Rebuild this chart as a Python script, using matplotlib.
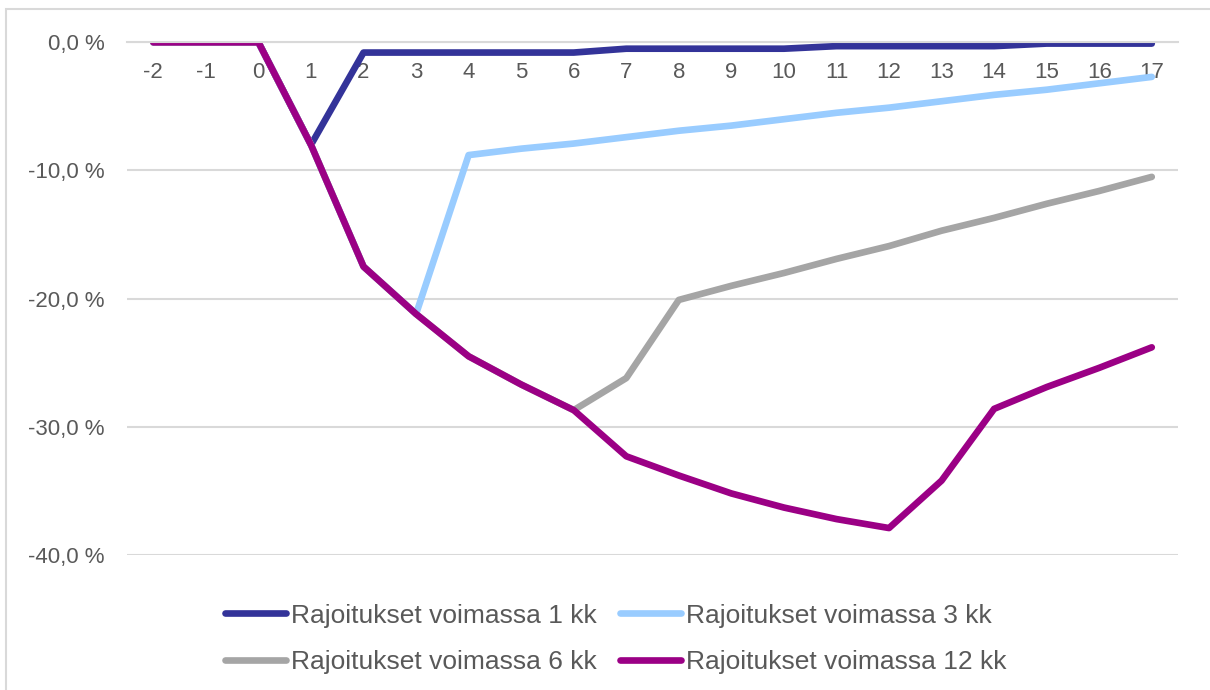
import matplotlib
matplotlib.use("Agg")
import matplotlib.pyplot as plt
from matplotlib.patches import Rectangle
from matplotlib.ticker import FuncFormatter

plt.rcParams['font.family'] = ['Liberation Sans', 'DejaVu Sans']

# months relative to start of restrictions
months = list(range(-2, 18))

# change in output (%)
r1kk = [0.0, 0.0, 0.0, -8.0, -0.8, -0.8, -0.8, -0.8, -0.8, -0.5,
        -0.5, -0.5, -0.5, -0.3, -0.3, -0.3, -0.3, -0.1, -0.1, -0.1]
r3kk = [0.0, 0.0, 0.0, -8.0, -17.5, -21.2, -8.8, -8.3, -7.9, -7.4,
        -6.9, -6.5, -6.0, -5.5, -5.1, -4.6, -4.1, -3.7, -3.2, -2.7]
r6kk = [0.0, 0.0, 0.0, -8.0, -17.5, -21.2, -24.5, -26.7, -28.7, -26.2,
        -20.1, -19.0, -18.0, -16.9, -15.9, -14.7, -13.7, -12.6, -11.6, -10.5]
r12kk = [0.0, 0.0, 0.0, -8.0, -17.5, -21.2, -24.5, -26.7, -28.7, -32.3,
         -33.8, -35.2, -36.3, -37.2, -37.9, -34.2, -28.6, -26.9, -25.4, -23.8]

labels = ["Rajoitukset voimassa 1 kk", "Rajoitukset voimassa 3 kk",
          "Rajoitukset voimassa 6 kk", "Rajoitukset voimassa 12 kk"]
colors = ["#333399", "#99CCFF", "#A5A5A5", "#9B0085"]

text_col = "#595959"
grid_col = "#D9D9D9"

fig = plt.figure(figsize=(12.1, 6.9), dpi=100)
ax = fig.add_axes([0.105, 0.1957, 0.8686, 0.743])

x = list(range(len(months)))
lines = []
for ys, lab, c in zip([r1kk, r3kk, r6kk, r12kk], labels, colors):
    ln, = ax.plot(x, ys, color=c, lw=4.8, label=lab,
                  solid_capstyle='round', solid_joinstyle='round')
    lines.append(ln)

ax.set_xlim(-0.5, len(months) - 0.5)
ax.set_ylim(-40, 0)
ax.set_yticks([0, -10, -20, -30, -40])
ax.yaxis.set_major_formatter(FuncFormatter(lambda v, p: f"{v:.1f} %".replace(".", ",")))
ax.grid(axis='y', color=grid_col, lw=1.5)
ax.set_axisbelow(True)

# category axis crosses at zero
for s in ['top', 'right', 'left']:
    ax.spines[s].set_visible(False)
ax.spines['bottom'].set_position(('data', 0))
ax.spines['bottom'].set_color(grid_col)
ax.spines['bottom'].set_linewidth(1.5)
ax.set_xticks(x)
ax.set_xticklabels([str(m) for m in months])

ax.tick_params(axis='x', length=0, pad=14, labelsize=16, labelcolor=text_col)
ax.tick_params(axis='y', length=0, pad=16, labelsize=16, labelcolor=text_col)

# legend filled row by row (1, 3 / 6, 12)
order = [0, 2, 1, 3]
leg = ax.legend([lines[i] for i in order], [labels[i] for i in order],
                loc='center', bbox_to_anchor=(0.509, 0.074), bbox_transform=fig.transFigure,
                ncol=2, frameon=False, fontsize=19, handlelength=2.3, handletextpad=0.2,
                columnspacing=0.9, labelspacing=0.85)
for t in leg.get_texts():
    t.set_color(text_col)

# chart area border
fig.patches.append(Rectangle((6 / 1210, -0.05), 1.1, 1 - 9 / 690 + 0.05,
                             transform=fig.transFigure, fill=False,
                             edgecolor=grid_col, lw=1.5))

fig.savefig("out.png", dpi=100)
